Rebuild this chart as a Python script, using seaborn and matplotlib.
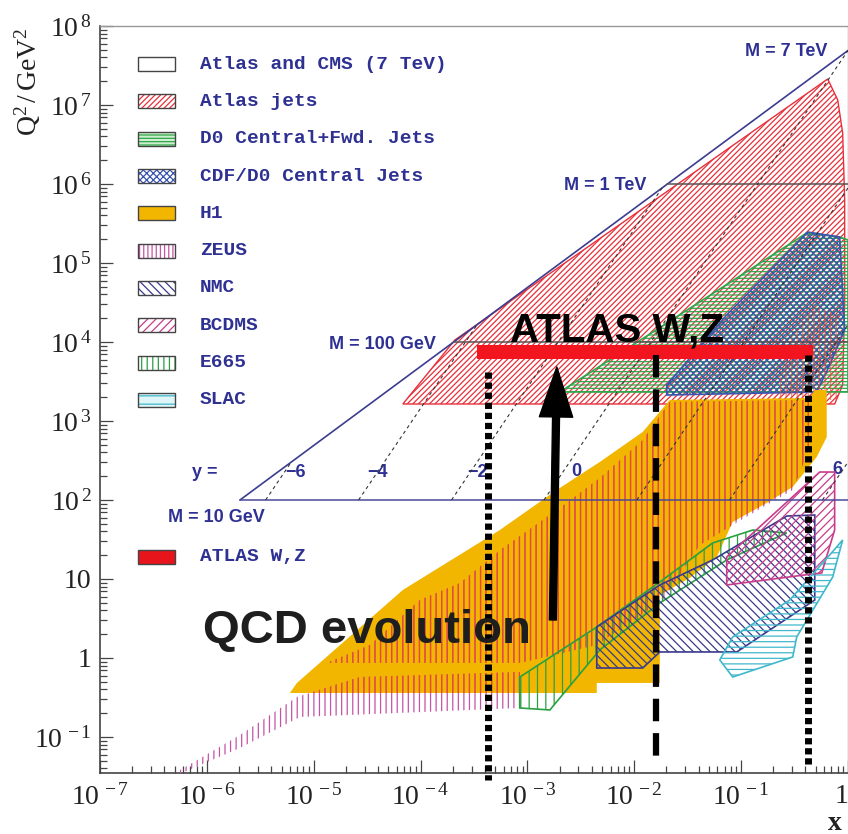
import numpy as np
import pandas as pd
import matplotlib
matplotlib.use("Agg")
import matplotlib.pyplot as plt
import seaborn as sns
from matplotlib.patches import Rectangle
from matplotlib.ticker import FixedLocator, FixedFormatter, LogLocator, NullFormatter

# ------------------------------------------------------------------
# Data: all coordinates are log10(x) and log10(Q^2 / GeV^2)
# ------------------------------------------------------------------
# kinematic limit of the 7 TeV LHC (M = 7 TeV line) and mass lines
kin_lx = [-5.69, 0.0]
kin_lq = [2.0, 7.69]
mass_lq = [2.0, 4.0, 6.0]
mass_lx_start = [-5.69, -3.69, -1.69]
mass_labels = ["M = 10 GeV", "M = 100 GeV", "M = 1 TeV", "M = 7 TeV"]
mass_label_lx = [-5.915, -4.353, -2.276, -0.583]
mass_label_lq = [1.772, 3.962, 5.975, 7.671]

# lines of constant rapidity
rapidity = [-6, -4, -2, 0, 2, 4, 6]
rap_lx_low = [-5.45, -4.58, -3.71, -2.845, -1.976, -1.108, -0.239]
rap_lq_low = [2.0, 2.0, 2.0, 2.0, 2.0, 2.0, 2.0]
rap_lx_high = [-5.21, -3.47, -1.74, 0.0, 0.0, 0.0, 0.0]
rap_lq_high = [2.48, 4.22, 5.95, 7.69, 5.95, 4.22, 2.48]
rap_label_lx = [-5.166, -4.399, -3.464, -2.547, -1.70, -0.83, -0.096]
rap_label_lq = [2.35, 2.35, 2.35, 2.36, 2.35, 2.35, 2.38]

# measured regions
atlas_jets_lx = [-4.166, -3.679, -0.190, -0.096, -0.050, -0.031, -0.031, -0.050, -0.125]
atlas_jets_lq = [3.215, 4.025, 7.329, 7.063, 6.646, 5.797, 4.532, 3.456, 3.215]

d0_lx = [-2.697, -0.386, -0.078, 0.0, 0.0]
d0_lq = [3.367, 5.380, 5.329, 5.291, 3.367]

cdf_lx = [-1.696, -1.696, -1.135, -0.377, -0.078, -0.031, -0.171, -0.293]
cdf_lq = [3.329, 3.456, 4.342, 5.392, 5.329, 4.152, 3.709, 3.367]

h1_lx = [-5.223, -5.157, -4.166, -3.258, -2.725, -2.323, -1.921, -1.668, -0.358, -0.311,
         -0.199, -0.199, -0.293, -0.517, -0.761, -1.079, -1.228, -1.481, -1.761, -1.761,
         -2.351, -2.351]
h1_lq = [-0.443, -0.316, 0.861, 1.620, 2.127, 2.481, 2.861, 3.266, 3.291, 3.392,
         3.392, 2.797, 2.544, 2.165, 1.962, 1.722, 1.278, 1.013, 0.797, -0.316,
         -0.316, -0.443]

zeus_lx = [-4.877, -4.474, -4.007, -3.632, -3.230, -2.697, -2.323, -1.921, -1.668, -0.330,
           -0.330, -0.517, -0.761, -1.079, -1.387, -1.733, -2.351, -3.071]
zeus_lq = [-0.063, 0.165, 0.734, 0.949, 1.392, 1.899, 2.278, 2.759, 3.241, 3.266,
           2.759, 2.127, 1.937, 1.684, 1.430, 0.734, 0.165, -0.063]
zeus_low_lx = [-6.298, -5.690, -5.157, -4.568, -3.071, -3.071, -5.129, -5.690, -6.298]
zeus_low_lq = [-1.456, -0.975, -0.494, -0.241, -0.177, -0.633, -0.747, -1.139, -1.494]
zeus_high_lx = [-0.686, -0.545, -0.311, -0.096, -0.096]
zeus_high_lq = [3.266, 4.025, 4.468, 4.342, 3.266]

e665_lx = [-3.071, -2.351, -1.761, -1.266, -0.891, -0.573, -0.826, -1.135, -1.761, -2.323, -2.790, -3.071]
e665_lq = [-0.241, 0.392, 0.962, 1.456, 1.620, 1.582, 1.430, 1.241, 0.696, 0.101, -0.658, -0.633]

nmc_lx = [-2.351, -2.351, -1.921, -1.761, -1.041, -0.311, -0.311, -0.573, -1.266, -1.761]
nmc_lq = [0.392, -0.127, -0.127, 0.076, 0.076, 0.734, 1.810, 1.797, 1.241, 0.924]

bcdms_lx = [-1.135, -1.135, -0.405, -0.246, -0.125, -0.125, -0.265]
bcdms_lq = [1.278, 0.924, 1.051, 1.076, 1.620, 2.354, 2.354]

slac_lx = [-1.200, -1.079, -0.517, -0.480, -0.143, -0.050, -0.171, -0.545, -1.079]
slac_lq = [-0.025, -0.241, 0.013, 0.266, 1.025, 1.494, 1.304, 0.734, 0.266]

# ATLAS W,Z band and the overlaid markers
wz_lx = [-3.473, -0.330]
wz_lq = [3.785, 3.962]
dotted_lx = [-3.370, -0.377]
dotted_lq_top = [3.620, 3.835]
dotted_lq_bot = [-1.544, -1.380]
dashed_lx = [-1.799]
dashed_lq_top = [3.835]
dashed_lq_bot = [-1.291]
arrow_lx = [-2.762, -2.725]
arrow_lq = [0.481, 3.684]

legend_labels = ["Atlas and CMS (7 TeV)", "Atlas jets", "D0 Central+Fwd. Jets",
                 "CDF/D0 Central Jets", "H1", "ZEUS", "NMC", "BCDMS", "E665", "SLAC"]

x_tick_exp = [-7, -6, -5, -4, -3, -2, -1, 0]
x_tick_labels = [r"$10^{\,-7}$", r"$10^{\,-6}$", r"$10^{\,-5}$", r"$10^{\,-4}$",
                 r"$10^{\,-3}$", r"$10^{\,-2}$", r"$10^{\,-1}$", "1"]
y_tick_exp = [-1, 0, 1, 2, 3, 4, 5, 6, 7, 8]
y_tick_labels = [r"$10^{\,-1}$", "1", "10", r"$10^{\,2}$", r"$10^{\,3}$", r"$10^{\,4}$",
                 r"$10^{\,5}$", r"$10^{\,6}$", r"$10^{\,7}$", r"$10^{\,8}$"]

# ------------------------------------------------------------------
sns.set_style("ticks")
plt.rcParams["font.family"] = ["Liberation Serif", "DejaVu Serif"]
plt.rcParams["mathtext.fontset"] = "custom"
plt.rcParams["mathtext.rm"] = "Liberation Serif"
plt.rcParams["mathtext.it"] = "Liberation Serif:italic"
plt.rcParams["mathtext.default"] = "rm"
plt.rcParams["hatch.linewidth"] = 0.9

NAVY = "#2e3192"
RED = "#e8303a"
GREEN = "#2ea84a"
BLUE = "#3a55b0"
GOLD = "#f2b600"
ZMAG = "#c454a4"
ZRED = "#ea4a2c"
NMCC = "#3a3a8c"
BCD = "#c83c8c"
EGR = "#2aa040"
SLC = "#40b8cc"

fig = plt.figure(figsize=(8.48, 8.34), dpi=100)
ax = fig.add_axes([100 / 848, 61 / 834, 748 / 848, 747 / 834])
ax.set_xscale("log")
ax.set_yscale("log")
ax.set_xlim(1e-7, 1.0)
ax.set_ylim(10 ** -1.456, 1e8)


def P(v):
    return 10.0 ** np.asarray(v, dtype=float)


def region(lx, lq, z, face=None, hatch=None, hcolor=None, ecolor=None, lw=1.0, alpha=1.0):
    xs, ys = P(lx), P(lq)
    out = None
    if face is not None:
        out = ax.fill(xs, ys, facecolor=face, edgecolor="none", zorder=z)[0]
    if hatch is not None:
        h = ax.fill(xs, ys, facecolor="none", edgecolor=hcolor, hatch=hatch,
                    linewidth=0, zorder=z, alpha=alpha)[0]
        out = out if out is not None else h
    if ecolor is not None:
        ax.fill(xs, ys, facecolor="none", edgecolor=ecolor, linewidth=lw, zorder=z + 0.01)
    return out


region(atlas_jets_lx, atlas_jets_lq, 2, hatch="//////", hcolor=RED, ecolor=RED, lw=1.0)
region(d0_lx, d0_lq, 3, hatch="-----", hcolor=GREEN, ecolor=GREEN, lw=1.2)
region(cdf_lx, cdf_lq, 4, hatch="xxxxx", hcolor=BLUE, ecolor=BLUE, lw=1.2)
region(zeus_high_lx, zeus_high_lq, 4.5, hatch="|||", hcolor=ZRED, alpha=0.6)
h1_patch = region(h1_lx, h1_lq, 5, face=GOLD)

region(zeus_low_lx, zeus_low_lq, 6, hatch="|||", hcolor=ZMAG)
region(zeus_lx, zeus_lq, 6, hatch="|||", hcolor=ZMAG)
# the same stripes look red where they lie on top of the H1 area
for lx, lq in [(zeus_low_lx, zeus_low_lq), (zeus_lx, zeus_lq)]:
    p = ax.fill(P(lx), P(lq), facecolor="none", edgecolor=ZRED, hatch="|||",
                linewidth=0, zorder=6.05)[0]
    p.set_clip_path(h1_patch)

region(e665_lx, e665_lq, 7, hatch="||", hcolor=EGR, ecolor=EGR, lw=1.2)
region(nmc_lx, nmc_lq, 8, hatch="\\\\\\\\", hcolor=NMCC, ecolor=NMCC, lw=1.2)
region(bcdms_lx, bcdms_lq, 9, hatch="////", hcolor=BCD, ecolor=BCD, lw=1.2)
region(slac_lx, slac_lq, 9, hatch="---", hcolor=SLC, ecolor=SLC, lw=1.2)

# kinematic lines (seaborn)
sns.lineplot(x=P(kin_lx), y=P(kin_lq), ax=ax, color="#3c3c90", linewidth=1.2,
             sort=False, estimator=None, zorder=10)
mass_df = pd.DataFrame({
    "x": np.concatenate([[P(s), 1.0] for s in mass_lx_start]),
    "q": np.repeat(P(mass_lq), 2),
    "line": np.repeat(np.arange(len(mass_lq)), 2),
})
for i, col in enumerate(["#4a4a9a", "#555555", "#555555"]):
    sub = mass_df[mass_df["line"] == i]
    sns.lineplot(data=sub, x="x", y="q", ax=ax, color=col, linewidth=1.1,
                 sort=False, estimator=None, zorder=10)

rap_df = pd.DataFrame({
    "x": np.concatenate([[P(a), P(b)] for a, b in zip(rap_lx_low, rap_lx_high)]),
    "q": np.concatenate([[P(a), P(b)] for a, b in zip(rap_lq_low, rap_lq_high)]),
    "y": np.repeat(rapidity, 2),
})
sns.lineplot(data=rap_df, x="x", y="q", units="y", estimator=None, sort=False, ax=ax,
             color="#333333", linewidth=0.8, linestyle=(0, (3, 3)), zorder=10)

lab_font = dict(family="Liberation Sans", color=NAVY, fontsize=13, ha="center", va="center")
for t, lx, lq in zip(mass_labels, mass_label_lx, mass_label_lq):
    ax.text(P(lx), P(lq), t, zorder=10, fontweight="bold", **lab_font)
ax.text(P(-6.018), P(2.342), "y =", zorder=4.9, fontweight="bold", **lab_font)
for r, lx, lq in zip(rapidity, rap_label_lx, rap_label_lq):
    s = str(r).replace("-", "\u2212")
    ax.text(P(lx), P(lq), s, zorder=4.9, fontweight="bold", **lab_font)

# ATLAS W,Z band
ax.fill_between(P(wz_lx), P(wz_lq[0]), P(wz_lq[1]), color="#f2141e", linewidth=0, zorder=11)

# vertical marker lines
for lx, qt, qb in zip(dotted_lx, dotted_lq_top, dotted_lq_bot):
    ax.plot([P(lx), P(lx)], [P(qt), P(qb)], color="black", linewidth=5,
            linestyle=(0, (0.9, 0.55)), solid_capstyle="butt", dash_capstyle="butt",
            zorder=12, clip_on=False)
for lx, qt, qb in zip(dashed_lx, dashed_lq_top, dashed_lq_bot):
    ax.plot([P(lx), P(lx)], [P(qt), P(qb)], color="black", linewidth=4.5,
            linestyle=(0, (3.6, 1.9)), dash_capstyle="butt", zorder=12, clip_on=False)

ax.annotate("", xy=(P(arrow_lx[1]), P(arrow_lq[1])), xytext=(P(arrow_lx[0]), P(arrow_lq[0])),
            arrowprops=dict(facecolor="black", edgecolor="black", width=5, headwidth=24,
                            headlength=36, shrink=0), zorder=13)

ax.text(P(-6.036), P(0.19), "QCD evolution", family="Liberation Sans", fontweight="bold",
        fontsize=34, color="#1e1e1e", ha="left", va="baseline", zorder=14)
ax.text(P(-3.165), P(4.0), "ATLAS W,Z", family="Liberation Sans", fontweight="bold",
        fontsize=29, color="black", ha="left", va="baseline", zorder=14)

# legend (drawn in axes fraction)
sw_styles = [
    dict(face="white", hatch=None, hc=None),
    dict(face="white", hatch="//////", hc=RED),
    dict(face="#cfeecf", hatch="-----", hc=GREEN),
    dict(face="white", hatch="xxxxx", hc=BLUE),
    dict(face=GOLD, hatch=None, hc=None),
    dict(face="white", hatch="||||", hc=ZMAG),
    dict(face="white", hatch="\\\\\\\\", hc=NMCC),
    dict(face="white", hatch="////", hc=BCD),
    dict(face="white", hatch="|||", hc=EGR),
    dict(face="#dff5f8", hatch="--", hc=SLC),
]
sw_x0, sw_w, sw_h = 0.0508, 0.0495, 0.0187
txt_x = 0.1337
for i, (lab, st) in enumerate(zip(legend_labels, sw_styles)):
    yc = 0.9491 - i * 0.04997
    ax.add_patch(Rectangle((sw_x0, yc - sw_h / 2), sw_w, sw_h, transform=ax.transAxes,
                           facecolor=st["face"], edgecolor="none", zorder=15))
    if st["hatch"]:
        ax.add_patch(Rectangle((sw_x0, yc - sw_h / 2), sw_w, sw_h, transform=ax.transAxes,
                               facecolor="none", edgecolor=st["hc"], hatch=st["hatch"],
                               linewidth=0, zorder=15.1))
    ax.add_patch(Rectangle((sw_x0, yc - sw_h / 2), sw_w, sw_h, transform=ax.transAxes,
                           facecolor="none", edgecolor="#444444", linewidth=1.0, zorder=15.2))
    ax.text(txt_x, yc, lab, transform=ax.transAxes, family="Liberation Mono",
            fontweight="bold", fontsize=14, color=NAVY, va="center", ha="left", zorder=15)
yc = 0.2892
ax.add_patch(Rectangle((sw_x0, yc - sw_h / 2), sw_w, sw_h, transform=ax.transAxes,
                       facecolor="#e8141c", edgecolor="#444444", linewidth=1.0, zorder=15))
ax.text(txt_x, yc, "ATLAS W,Z", transform=ax.transAxes, family="Liberation Mono",
        fontweight="bold", fontsize=14, color=NAVY, va="center", ha="left", zorder=15)

# axes styling
ax.xaxis.set_major_locator(FixedLocator(P(x_tick_exp)))
ax.xaxis.set_major_formatter(FixedFormatter(x_tick_labels))
ax.yaxis.set_major_locator(FixedLocator(P(y_tick_exp)))
ax.yaxis.set_major_formatter(FixedFormatter(y_tick_labels))
ax.xaxis.set_minor_locator(LogLocator(base=10, subs=np.arange(2, 10), numticks=100))
ax.yaxis.set_minor_locator(LogLocator(base=10, subs=np.arange(2, 10), numticks=100))
ax.xaxis.set_minor_formatter(NullFormatter())
ax.yaxis.set_minor_formatter(NullFormatter())
ax.tick_params(which="both", direction="in", color="#444444", width=0.9,
               top=False, right=False)
ax.tick_params(which="major", length=9.5, labelsize=20, labelcolor="#222222")
ax.tick_params(which="minor", length=5)
ax.tick_params(axis="y", which="major", pad=6)
ax.tick_params(axis="x", which="major", pad=8)
for s in ["left", "bottom"]:
    ax.spines[s].set_color("#444444")
    ax.spines[s].set_linewidth(1.2)
for s in ["top", "right"]:
    ax.spines[s].set_color("#999999")
    ax.spines[s].set_linewidth(1.0)
ax.set_xlabel("")
ax.set_ylabel("")
fig.canvas.draw()
ax.get_xticklabels()[-1].set_horizontalalignment("right")

fig.text(28 / 848, 1 - 82 / 834, r"$\mathrm{Q^2\,/\,GeV^2}$", rotation=90, fontsize=20,
         ha="center", va="center", color="#222222")
fig.text(835 / 848, 1 - 823 / 834, "x", fontsize=20, fontweight="bold", ha="center",
         va="center", color="#222222")

fig.savefig("out.png", dpi=100)
